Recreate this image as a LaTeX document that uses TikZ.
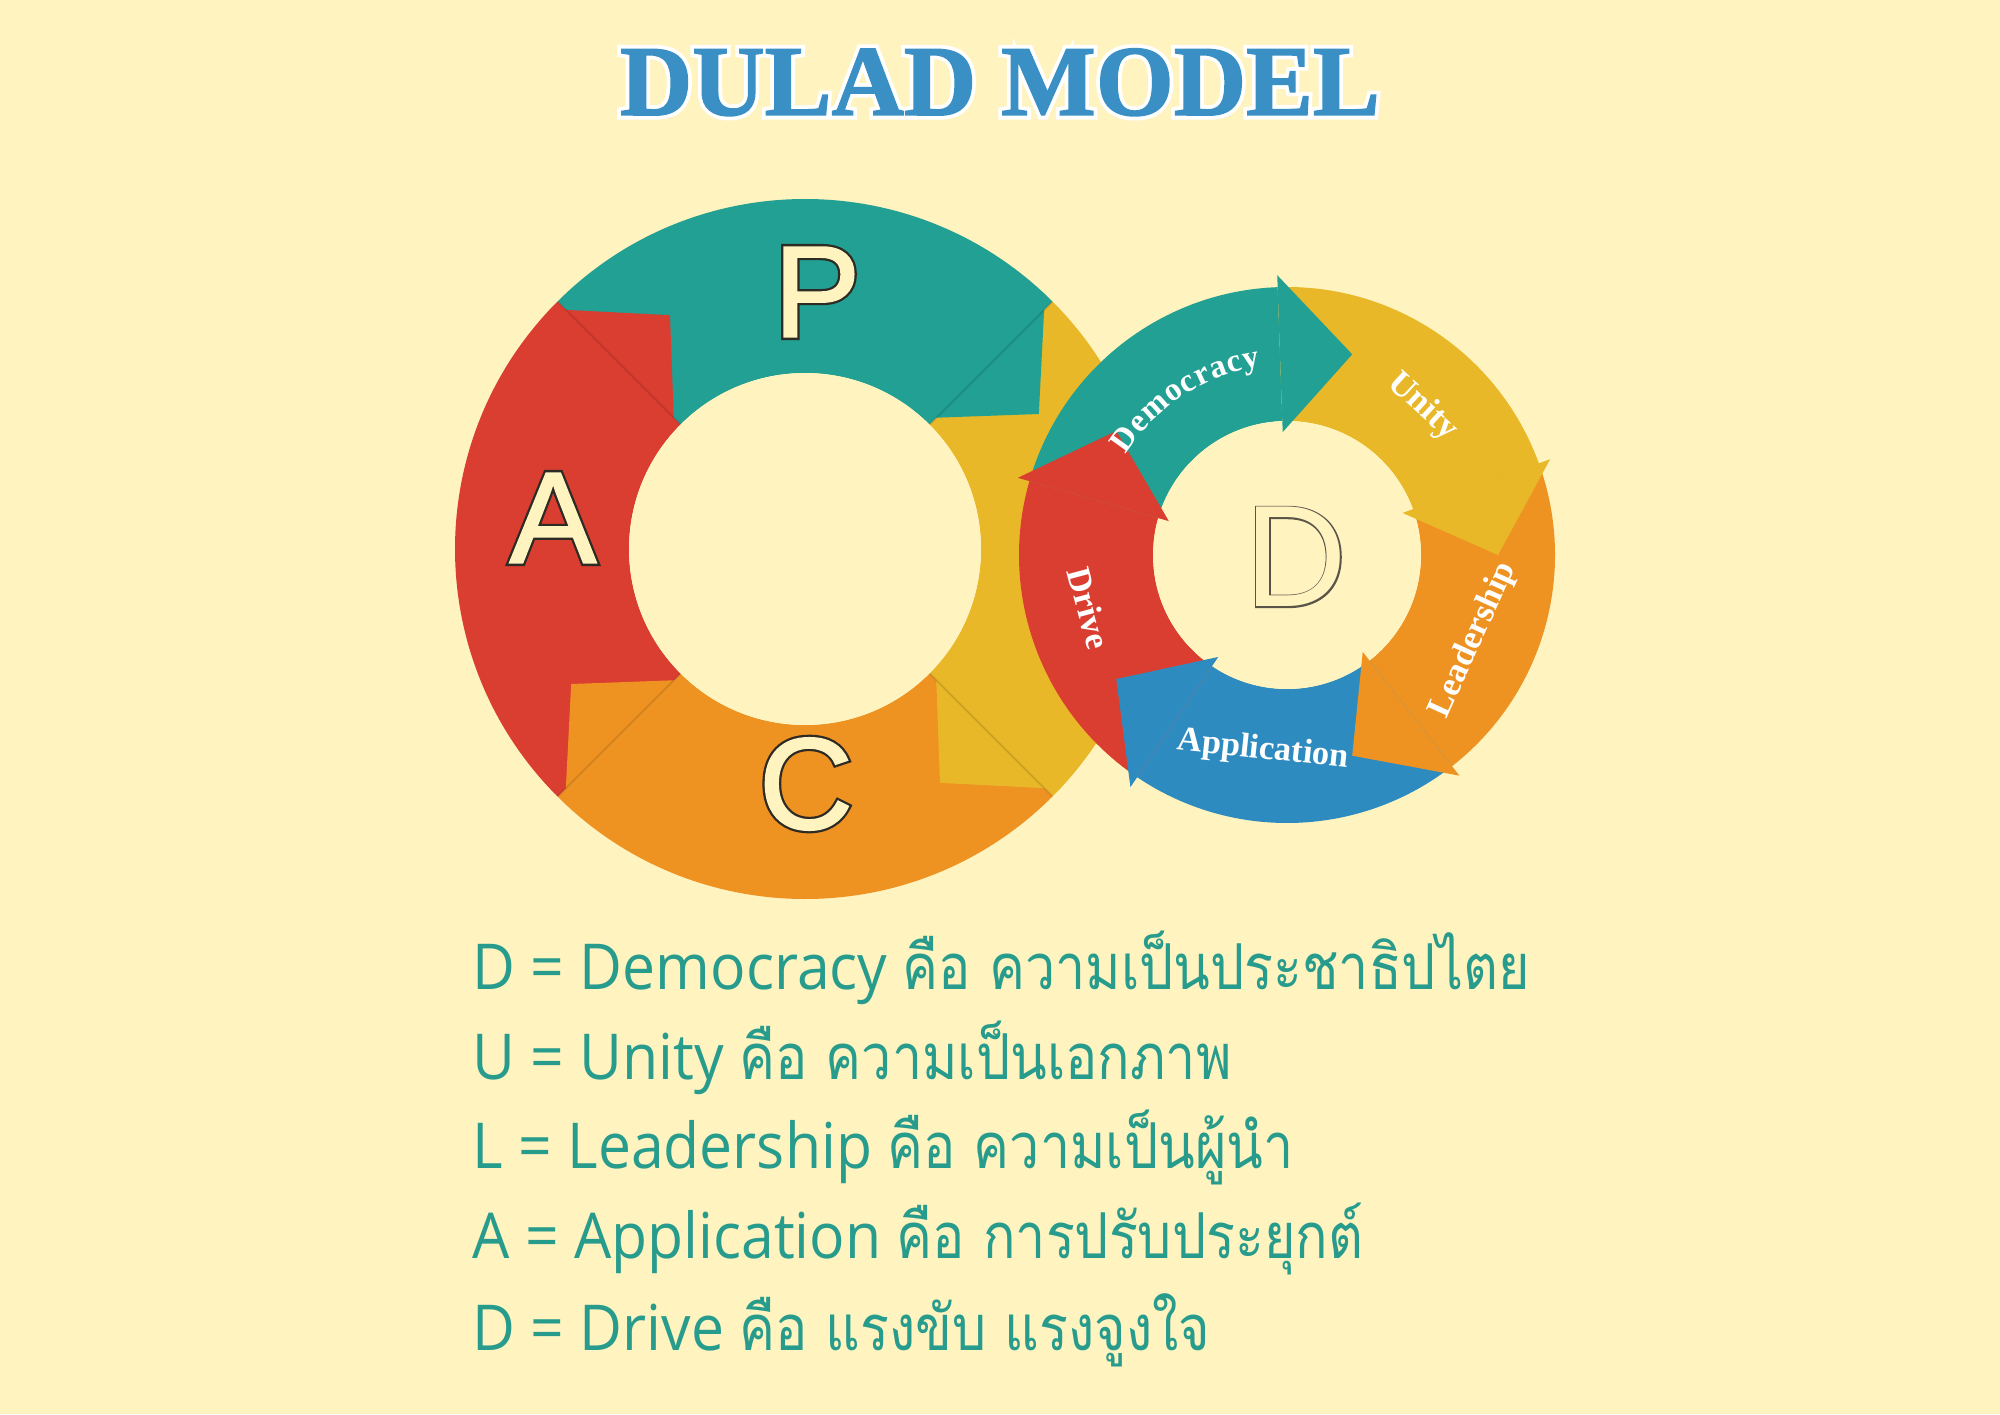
\documentclass[tikz,border=0pt]{standalone}
\usepackage{fontspec}
\usetikzlibrary{decorations.text}
\setmainfont{Open Sans}[FakeStretch=0.93]
\newfontfamily\thaifont[Script=Thai, FakeStretch=0.85]{Loma}
\newfontfamily\titlefont{Liberation Serif}[FakeBold=1.5]
\newfontfamily\titleedge{Liberation Serif}[FakeBold=9]
\newfontfamily\pacfont{Liberation Sans}[FakeBold=1.5]
\newfontfamily\pacedge{Liberation Sans}[FakeBold=5]
\newfontfamily\hubfont{Poppins}
\newfontfamily\hubedge{Poppins}[FakeBold=2]
\newfontfamily\arcfont{Liberation Serif}

\definecolor{paper}{HTML}{FFF3C0}
\definecolor{pteal}{HTML}{21A093}
\definecolor{pred}{HTML}{DA3E30}
\definecolor{pyellow}{HTML}{E9B828}
\definecolor{porange}{HTML}{EE9322}
\definecolor{pblue}{HTML}{2E8BBF}
\definecolor{titleblue}{HTML}{3A8FC4}
\definecolor{ink}{HTML}{2E2A24}
\definecolor{hubink}{HTML}{5A5448}
\definecolor{legendteal}{HTML}{279C8D}

\newcommand\pacmark[1]{\makebox[0pt]{\pacedge\color{ink}#1}\makebox[0pt]{\pacfont\color{paper}#1}}
\newcommand\arcstyle{\fontsize{9.3}{11}\selectfont\arcfont\bfseries\color{white}}

\begin{document}
\begin{tikzpicture}[x=0.01cm, y=0.01cm,
  pacletter/.style={inner sep=0pt, font=\fontsize{37}{40}\selectfont},
  legendline/.style={anchor=base west, inner sep=0pt, text=legendteal, font=\fontsize{18}{22}\selectfont},
  arcword/.style={inner sep=0pt, text=white, font=\fontsize{9.8}{11}\selectfont\arcfont\bfseries},
  arclabel/.style={decorate, decoration={text along path, text align=fit to path, text={|\arcstyle|#1}}}]
  \useasboundingbox (0,0) rectangle (2000,1414);
  \fill[paper] (0,0) rectangle (2000,1414);

  \node[inner sep=0pt, anchor=base] (title) at (1000,1299) {\fontsize{28.5}{30}\selectfont
    \makebox[0pt]{\titleedge\bfseries\color{white}DULAD MODEL}\makebox[0pt]{\titlefont\bfseries\color{titleblue}DULAD MODEL}};

  % big ring: four quarters, each pushes a block into the next one clockwise
  \begin{scope}[shift={(805,865)}]
    \foreach \a/\c in {135/pteal, 45/pyellow, -45/porange, -135/pred}{
      \fill[\c] (\a:350) arc[start angle=\a, end angle=\a-90, radius=350] -- (\a-90:176)
        arc[start angle=\a-90, end angle=\a, radius=176] -- cycle; }
    \begin{scope}
      \clip (0,0) circle (350);
      \foreach \a/\c in {45/pteal, -45/pyellow, -135/porange, 135/pred}{
        \fill[\c] (\a+2:352) -- (\a-15:270) -- (\a+3:176) -- cycle;
        \draw[black, opacity=.12, line width=.5pt] (\a:176) -- (\a:350); }
    \end{scope}
    \fill[paper] (0,0) circle (176);
  \end{scope}
  \node[pacletter] (letP) at (817,1122) {\pacmark{P}};
  \node[pacletter] (letA) at (553,896) {\pacmark{A}};
  \node[pacletter] (letC) at (806,630) {\pacmark{C}};

  % small ring: five arrows, bodies first, heads on top
  \begin{scope}[shift={(1287,859)}]
    \foreach \b/\c in {92/pteal, 20/pyellow, -52/porange, -124/pblue, -196/pred}{
      \fill[\c] (\b+72:268) arc[start angle=\b+72, end angle=\b, radius=268] -- (\b:134)
        arc[start angle=\b, end angle=\b+72, radius=134] -- cycle; }
    \fill[paper] (0,0) circle (134);
    \foreach \b/\c in {92/pteal, 20/pyellow, -52/porange, -124/pblue, -196/pred}{
      \fill[\c] (\b:123) -- (\b-20:211) -- (\b:280) -- cycle; }
    \path[arclabel=Democracy] (148:190) arc[start angle=148, end angle=98, radius=190];
    \node[arcword, rotate=-42.5] (lblU) at (47.5:201) {Unity};
    \node[arcword, rotate=65.5] (lblL) at (-24.5:205) {Leadership};
    \node[arcword, rotate=-6] (lblA) at (-97:197) {Application};
    \node[arcword, rotate=-75] (lblDr) at (195:205) {Drive};
    \node[inner sep=0pt] (hub) at (9,-2) {\fontsize{40.6}{42}\selectfont
      \makebox[0pt]{\hubedge\color{hubink}D}\makebox[0pt]{\hubfont\color{paper}D}};
  \end{scope}

  \node[legendline] (line1) at (472,425) {D = Democracy {\thaifont คือ ความเป็นประชาธิปไตย}};
  \node[legendline] (line2) at (472,335) {U = Unity {\thaifont คือ ความเป็นเอกภาพ}};
  \node[legendline] (line3) at (472,246) {L = Leadership {\thaifont คือ ความเป็นผู้นำ}};
  \node[legendline] (line4) at (472,156) {A = Application {\thaifont คือ การปรับประยุกต์}};
  \node[legendline] (line5) at (472,64) {D = Drive {\thaifont คือ แรงขับ แรงจูงใจ}};
\end{tikzpicture}
\end{document}
